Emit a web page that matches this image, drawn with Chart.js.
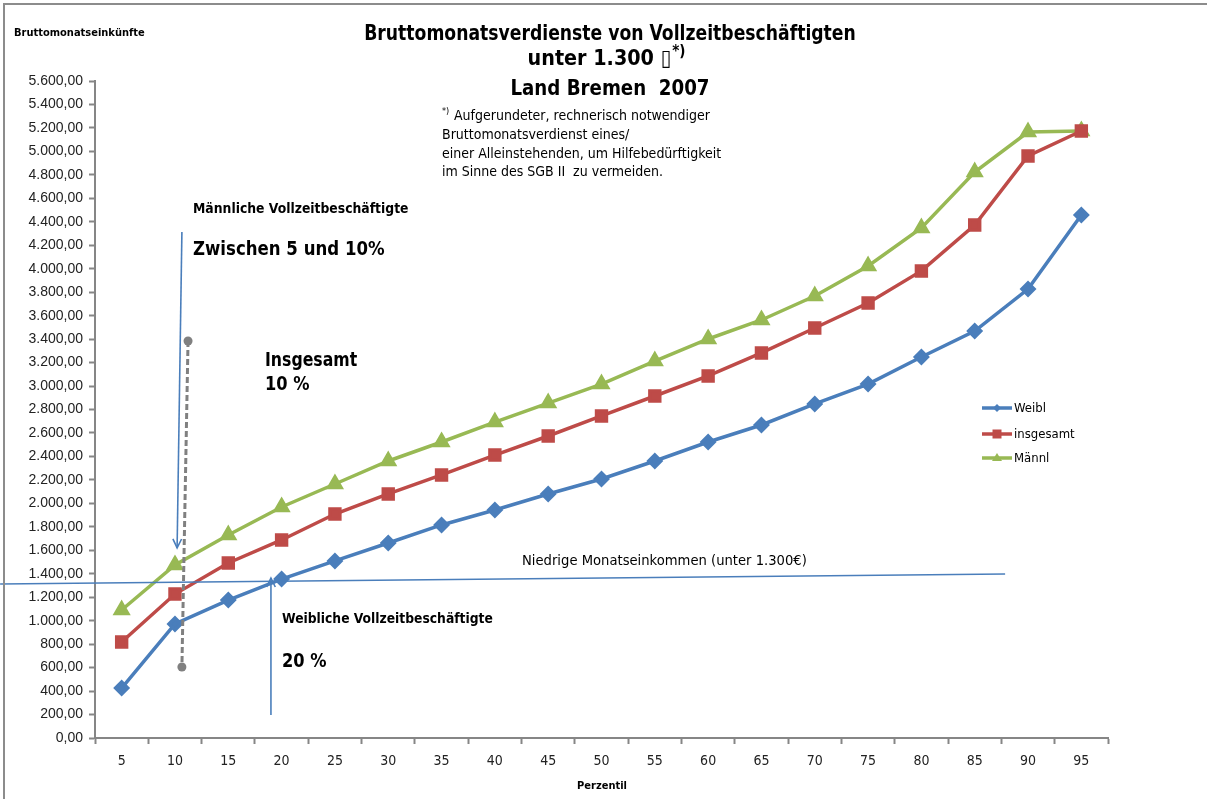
<!DOCTYPE html>
<html><head><meta charset="utf-8">
<script src="https://cdn.jsdelivr.net/npm/chart.js@4/dist/chart.umd.min.js"></script>
<style>
html,body{margin:0;padding:0;background:#fff;}
#wrap{position:relative;width:1207px;height:799px;overflow:hidden;}
#frame{position:absolute;left:3px;top:3px;right:-5px;bottom:-5px;border-top:2px solid #8c8c8c;border-left:2px solid #8c8c8c;pointer-events:none;}
canvas{position:absolute;left:0;top:0;}
</style></head>
<body><div id="wrap"><canvas id="c" width="1207" height="799"></canvas><div id="frame"></div></div>
<script>
const categories = ['5','10','15','20','25','30','35','40','45','50','55','60','65','70','75','80','85','90','95'];
const weibl     = [426, 972, 1176, 1355, 1509, 1662, 1816, 1943, 2080, 2208, 2361, 2523, 2668, 2847, 3017, 3248, 3469, 3827, 4458];
const insgesamt = [818, 1227, 1492, 1688, 1909, 2080, 2242, 2412, 2574, 2745, 2915, 3086, 3282, 3495, 3708, 3981, 4373, 4961, 5174];
const maennl    = [1091, 1475, 1730, 1969, 2165, 2361, 2523, 2693, 2855, 3017, 3213, 3401, 3563, 3767, 4023, 4347, 4824, 5165, 5174];
const seriesNames = ['Weibl', 'insgesamt', 'Männl'];
const yMax = 5600, yStep = 200;

const NARROW = "'Liberation Sans Narrow', 'DejaVu Sans Condensed', sans-serif";
const BLUE = '#4A7EBB', RED = '#BE4B48', GREEN = '#98B954', AXIS = '#868686';

function fmt(v){ return v.toLocaleString('de-DE',{minimumFractionDigits:2, maximumFractionDigits:2}); }

// draw text with a horizontal scale factor (condensed look)
function fillScaled(ctx, text, x, y, sx, align) {
  const w = ctx.measureText(text).width * sx;
  let left = x;
  if (align === 'center') left = x - w / 2;
  else if (align === 'right') left = x - w;
  ctx.save();
  ctx.textAlign = 'left';
  ctx.translate(left, y);
  ctx.scale(sx, 1);
  ctx.fillText(text, 0, 0);
  ctx.restore();
  return w;
}

const overlay = {
  id: 'overlay',
  afterDraw(chart) {
    const ctx = chart.ctx, xs = chart.scales.x, ys = chart.scales.y;
    const X = v => xs.getPixelForValue(v), Y = v => ys.getPixelForValue(v);
    ctx.save();
    ctx.fillStyle = '#000';
    ctx.textBaseline = 'alphabetic';
    // Titles
    ctx.font = "bold 22px " + NARROW;
    fillScaled(ctx, 'Bruttomonatsverdienste von Vollzeitbeschäftigten', 610, 40, 0.87, 'center');
    const l2 = 'unter 1.300 \u25AF';
    const S2 = 0.97;
    const w2 = ctx.measureText(l2).width * S2;
    ctx.font = "bold 15px " + NARROW;
    const ws = ctx.measureText('*)').width;
    const sx0 = 606 - (w2 + ws) / 2;
    ctx.font = "bold 22px " + NARROW;
    fillScaled(ctx, l2, sx0, 65, S2, 'left');
    ctx.font = "bold 15px " + NARROW;
    ctx.textAlign = 'left';
    ctx.fillText('*)', sx0 + w2 + 1, 56);
    ctx.font = "bold 22px " + NARROW;
    fillScaled(ctx, 'Land Bremen  2007', 610, 95, 0.92, 'center');
    // Footnote
    ctx.textAlign = 'left';
    ctx.font = "9px " + NARROW;
    ctx.fillText('*)', 442, 114);
    ctx.font = "14px " + NARROW;
    ctx.fillText('Aufgerundeter, rechnerisch notwendiger', 454, 120);
    ctx.fillText('Bruttomonatsverdienst eines/', 442, 139);
    ctx.fillText('einer Alleinstehenden, um Hilfebedürftigkeit', 442, 158);
    ctx.fillText('im Sinne des SGB II  zu vermeiden.', 442, 176);
    // Axis titles
    ctx.font = "bold 11px " + NARROW;
    ctx.fillText('Bruttomonatseinkünfte', 14, 36);
    ctx.textAlign = 'center';
    ctx.fillText('Perzentil', 602, 789);

    // Low-income line (blue, slight slope)
    ctx.strokeStyle = BLUE; ctx.lineWidth = 1.6;
    ctx.beginPath(); ctx.moveTo(X(-2.28), Y(1313)); ctx.lineTo(X(16.57), Y(1398)); ctx.stroke();
    ctx.font = "14px " + NARROW; ctx.fillStyle = '#000';
    fillScaled(ctx, 'Niedrige Monatseinkommen (unter 1.300€)', 522, 565, 1.045, 'left');

    // Arrows
    function arrow(x1, y1, x2, y2) {
      const ax = X(x1), ay = Y(y1), bx = X(x2), by = Y(y2);
      ctx.strokeStyle = BLUE; ctx.lineWidth = 1.6;
      ctx.beginPath(); ctx.moveTo(ax, ay); ctx.lineTo(bx, by); ctx.stroke();
      const ang = Math.atan2(by - ay, bx - ax), L = 10, a = 0.45;
      ctx.beginPath();
      ctx.moveTo(bx - L * Math.cos(ang - a), by - L * Math.sin(ang - a));
      ctx.lineTo(bx, by);
      ctx.lineTo(bx - L * Math.cos(ang + a), by - L * Math.sin(ang + a));
      ctx.stroke();
    }
    arrow(1.13, 4313, 1.04, 1620);
    arrow(2.80, 196, 2.80, 1364);

    // Gray dashed connector
    ctx.strokeStyle = '#808080'; ctx.lineWidth = 3; ctx.setLineDash([6, 3]);
    ctx.beginPath(); ctx.moveTo(X(1.245), Y(3384)); ctx.lineTo(X(1.13), Y(605)); ctx.stroke();
    ctx.setLineDash([]);
    ctx.fillStyle = '#808080';
    [[1.245, 3384], [1.13, 605]].forEach(p => { ctx.beginPath(); ctx.arc(X(p[0]), Y(p[1]), 4.5, 0, Math.PI * 2); ctx.fill(); });

    // Text annotations
    ctx.fillStyle = '#000'; ctx.textAlign = 'left';
    ctx.font = "bold 14px " + NARROW;
    fillScaled(ctx, 'Männliche Vollzeitbeschäftigte', 193, 213, 0.985, 'left');
    fillScaled(ctx, 'Weibliche Vollzeitbeschäftigte', 282, 623, 0.98, 'left');
    ctx.font = "bold 19px " + NARROW;
    fillScaled(ctx, 'Zwischen 5 und 10%', 193, 255, 0.97, 'left');
    fillScaled(ctx, 'Insgesamt', 265, 366, 0.92, 'left');
    fillScaled(ctx, '10 %', 265, 390, 0.95, 'left');
    fillScaled(ctx, '20 %', 282, 667, 0.95, 'left');

    // Legend
    const ds = chart.data.datasets;
    const ly = [408, 434, 458];
    ds.forEach((d, i) => {
      const y = ly[i];
      ctx.strokeStyle = d.borderColor; ctx.lineWidth = 3.5;
      ctx.beginPath(); ctx.moveTo(982, y); ctx.lineTo(1012, y); ctx.stroke();
      ctx.fillStyle = d.borderColor;
      const cx = 997;
      ctx.beginPath();
      if (d.pointStyle === 'rectRot') { ctx.moveTo(cx, y - 4); ctx.lineTo(cx + 4, y); ctx.lineTo(cx, y + 4); ctx.lineTo(cx - 4, y); }
      else if (d.pointStyle === 'rect') { ctx.rect(cx - 4.5, y - 4.5, 9, 9); }
      else { ctx.moveTo(cx, y - 5); ctx.lineTo(cx + 5, y + 3); ctx.lineTo(cx - 5, y + 3); }
      ctx.closePath(); ctx.fill();
      ctx.fillStyle = '#000'; ctx.font = "13px " + NARROW; ctx.textBaseline = 'middle';
      ctx.fillText(d.label, 1014, y + 1);
      ctx.textBaseline = 'alphabetic';
    });
    ctx.restore();
  }
};

new Chart(document.getElementById('c'), {
  type: 'line',
  data: {
    labels: categories,
    datasets: [
      { label: seriesNames[0], data: weibl, borderColor: BLUE, backgroundColor: BLUE, pointStyle: 'rectRot', pointRadius: 6, pointHoverRadius: 6, borderWidth: 3.5, tension: 0 },
      { label: seriesNames[1], data: insgesamt, borderColor: RED, backgroundColor: RED, pointStyle: 'rect', pointRadius: 7, pointHoverRadius: 7, borderWidth: 3.5, tension: 0 },
      { label: seriesNames[2], data: maennl, borderColor: GREEN, backgroundColor: GREEN, pointStyle: 'triangle', pointRadius: 7, pointHoverRadius: 7, borderWidth: 3.5, tension: 0 }
    ]
  },
  options: {
    responsive: false, animation: false,
    events: [],
    layout: { padding: { top: 81, right: 99, left: 0, bottom: 0 } },
    plugins: { legend: { display: false }, tooltip: { enabled: false }, title: { display: false } },
    scales: {
      x: {
        offset: true,
        grid: { display: true, drawOnChartArea: false, drawTicks: true, tickLength: 6, tickWidth: 2, tickColor: AXIS, offset: true },
        border: { display: true, color: AXIS, width: 2 },
        ticks: { color: '#222', font: { family: NARROW, size: 14 }, padding: 9, maxRotation: 0, autoSkip: false },
        afterFit(s) { s.height = 61; }
      },
      y: {
        min: 0, max: yMax,
        grid: { display: true, drawOnChartArea: false, drawTicks: true, tickLength: 6, tickWidth: 2, tickColor: AXIS },
        border: { display: true, color: AXIS, width: 2 },
        ticks: { stepSize: yStep, color: '#222', font: { family: "'Liberation Sans', Arial, sans-serif", size: 14 }, padding: 6, callback: v => fmt(v) },
        afterFit(s) { s.width = 95; }
      }
    }
  },
  plugins: [overlay]
});
</script>
</body></html>
